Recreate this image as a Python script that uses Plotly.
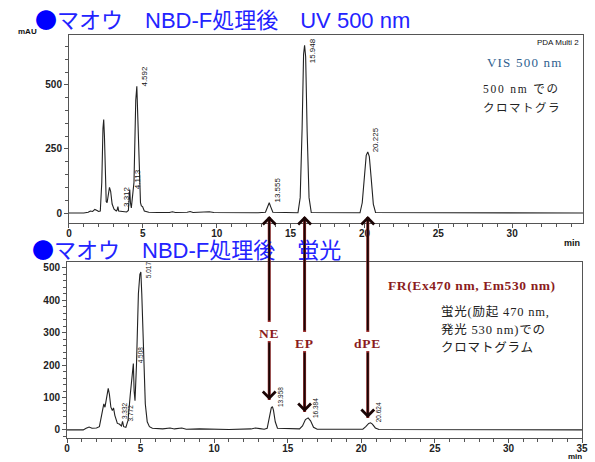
import plotly.graph_objects as go

W, H = 595, 462

# ---------------- UV 500 nm chromatogram (mAU vs min) ----------------
uv_peak_text = ["3.312", "4.113", "4.592", "13.555", "15.948", "20.225"]
uv_peak_rt = [3.312, 4.113, 4.592, 13.555, 15.948, 20.225]
uv_peak_mau = [25, 92, 495, 40, 655, 238]

# trace points between the labelled apexes (baseline, flanks, unlabelled peaks)
uv_trace_t = [0, 1.0, 1.3, 1.45, 1.6, 1.75, 1.9, 2.0, 2.12, 2.22, 2.3, 2.35, 2.4, 2.46,
              2.52, 2.58, 2.66, 2.74, 2.82, 2.92, 3.05, 3.2, 3.26, 3.36, 3.6, 3.9, 4.02,
              4.08, 4.16, 4.22, 4.4, 4.52, 4.64, 4.68, 4.72, 4.78, 4.84, 4.9, 4.98, 5.1,
              5.4, 6.0, 6.8, 7.0, 7.2, 8.0, 8.2, 8.4, 9.2, 9.5, 9.8, 11.0, 12.8, 13.3,
              13.45, 13.65, 13.8, 15.5, 15.65, 15.78, 15.88, 16.02, 16.12, 16.25, 16.4,
              19.7, 19.85, 20.0, 20.12, 20.33, 20.45, 20.6, 20.75, 34.8]
uv_trace_mau = [0, 0, 3, 8, 6, 14, 10, 6, 8, 120, 330, 365, 300, 110,
                45, 40, 80, 100, 85, 35, 15, 8, 12, 8, 5, 4, 10,
                60, 40, 20, 120, 440, 400, 260, 245, 120, 40, 28, 25, 8,
                3, 2, 2, 5, 2, 3, 6, 2, 3, 5, 2, 1, 1, 3,
                25, 25, 3, 1, 60, 330, 620, 610, 320, 60, 2,
                1, 40, 150, 225, 220, 140, 35, 2, 0]

# ---------------- fluorescence chromatogram ----------------
fl_peak_text = ["3.332", "3.772", "4.508", "5.017", "13.958", "16.384", "20.624"]
fl_peak_rt = [3.332, 3.772, 4.508, 5.017, 13.958, 16.384, 20.624]
fl_peak_sig = [32, 26, 205, 487, 72, 37, 22]

fl_trace_t = [0, 1.1, 1.3, 1.5, 1.7, 2.0, 2.2, 2.35, 2.5, 2.58, 2.7, 2.8, 2.88, 2.98,
              3.08, 3.16, 3.25, 3.42, 3.55, 3.7, 3.85, 4.0, 4.15, 4.3, 4.38, 4.45, 4.56,
              4.62, 4.72, 4.85, 4.95, 5.08, 5.2, 5.32, 5.45, 5.6, 5.8, 6.5, 7.0, 7.3,
              7.8, 8.1, 9.0, 11.0, 12.5, 12.8, 13.1, 13.4, 13.6, 13.75, 13.88, 14.03,
              14.15, 14.3, 15.8, 16.0, 16.2, 16.55, 16.75, 17.0, 20.1, 20.3, 20.5, 20.75,
              20.95, 21.2, 35.0]
fl_trace_sig = [0, 0, 5, 9, 5, 6, 10, 40, 80, 70, 100, 128, 110, 70,
                60, 68, 45, 20, 18, 12, 10, 8, 30, 110, 150, 195, 120,
                90, 200, 420, 480, 420, 230, 80, 25, 10, 5, 3, 6, 3,
                6, 2, 3, 1, 3, 6, 4, 2, 5, 40, 68, 60,
                25, 5, 3, 12, 32, 28, 8, 2, 2, 10, 20, 18,
                6, 1, 0]

# compounds identified in both runs
compound_names = ["NE", "EP", "dPE"]
compound_rt = [13.555, 15.948, 20.225]

uv_ticks = [0, 250, 500]
fl_ticks = [0, 100, 200, 300, 400, 500]
time_ticks = [0, 5, 10, 15, 20, 25, 30, 35]


def merged(t, y, pt, py):
    pts = sorted(zip(list(t) + list(pt), list(y) + list(py)))
    return [p[0] for p in pts], [p[1] for p in pts]


def fy(p):
    """pixel row -> paper y"""
    return 1 - p / H


def fx(p):
    """pixel column -> paper x"""
    return p / W


def spaced(text, px):
    return f"<span style='letter-spacing:{px}px'>{text}</span>"


LINE = "#222222"
AXIS = "#555555"
BLUE = "#2323ff"
RED = "#8b1c1c"
SERIF = "Liberation Serif, DejaVu Serif, Noto Sans CJK JP"
SANS = "Liberation Sans, Arial, Noto Sans CJK JP"
DOT = "<span style='font-family:Noto Sans CJK JP;color:#0000ff'>●</span>"

fig = go.Figure()

uv_t, uv_y = merged(uv_trace_t, uv_trace_mau, uv_peak_rt, uv_peak_mau)
fl_t, fl_y = merged(fl_trace_t, fl_trace_sig, fl_peak_rt, fl_peak_sig)

fig.add_trace(go.Scatter(x=uv_t, y=uv_y, mode="lines", line=dict(color=LINE, width=1.1),
                         xaxis="x", yaxis="y", showlegend=False, hoverinfo="skip"))
fig.add_trace(go.Scatter(x=fl_t, y=fl_y, mode="lines", line=dict(color=LINE, width=1.1),
                         xaxis="x2", yaxis="y2", showlegend=False, hoverinfo="skip"))

tickfont = dict(family=SANS, size=10, color="#222", weight="bold")


def axis_common():
    return dict(showline=True, linecolor=AXIS, linewidth=1, mirror=True,
                showgrid=False, zeroline=False, ticks="outside", ticklen=4,
                tickcolor=AXIS, tickfont=tickfont)


fig.update_layout(
    width=W, height=H, margin=dict(l=0, r=0, t=0, b=0),
    paper_bgcolor="white", plot_bgcolor="white",
    xaxis=dict(domain=[fx(67), fx(589)], range=[0, 34.8], anchor="y",
               tickvals=time_ticks, ticklabelstandoff=-3,
               minor=dict(dtick=1, tick0=0, ticks="outside", ticklen=3, tickcolor=AXIS),
               **axis_common()),
    yaxis=dict(domain=[fy(223), fy(35)], range=[-39, 695], anchor="x",
               tickvals=uv_ticks, minor=dict(dtick=50, tick0=0, ticks="outside",
                                             ticklen=3, tickcolor=AXIS),
               **axis_common()),
    xaxis2=dict(domain=[fx(65), fx(588)], range=[0, 35], anchor="y2",
                tickvals=time_ticks, ticklabelstandoff=-3,
                minor=dict(dtick=1, tick0=0, ticks="outside", ticklen=3, tickcolor=AXIS),
                **axis_common()),
    yaxis2=dict(domain=[fy(438), fy(262)], range=[-25, 518], anchor="x2",
                tickvals=fl_ticks, minor=dict(dtick=20, tick0=0, ticks="outside",
                                              ticklen=3, tickcolor=AXIS),
                **axis_common()),
)

ann = []

# retention-time labels on the peaks
for txt, rt, h in zip(uv_peak_text, uv_peak_rt, uv_peak_mau):
    ann.append(dict(x=rt, y=min(h, 585), xref="x", yref="y", text=txt, showarrow=False,
                    textangle=-90, xanchor="center", yanchor="bottom", xshift=8, yshift=-2,
                    font=dict(family="Liberation Sans Narrow, " + SANS, size=8, color="#111")))
for txt, rt, h in zip(fl_peak_text, fl_peak_rt, fl_peak_sig):
    ann.append(dict(x=rt, y=min(h, 469), xref="x2", yref="y2", text=txt, showarrow=False,
                    textangle=-90, xanchor="center", yanchor="bottom", xshift=8, yshift=-2,
                    font=dict(family="Liberation Sans Narrow, " + SANS, size=6.5, color="#111")))

# titles
ann.append(dict(x=fx(30), y=fy(18), xref="paper", yref="paper", xanchor="left", yanchor="middle",
                showarrow=False, text=DOT + "マオウ\u3000NBD-F処理後\u3000UV 500 nm",
                font=dict(family=SANS, size=22, color=BLUE)))
ann.append(dict(x=fx(27), y=fy(248), xref="paper", yref="paper", xanchor="left", yanchor="middle",
                showarrow=False, text=DOT + "マオウ\u3000NBD-F処理後\u3000蛍光",
                font=dict(family=SANS, size=22, color=BLUE)))

# axis unit labels
ann.append(dict(x=fx(13), y=fy(31), xref="paper", yref="paper", xanchor="left", yanchor="middle",
                showarrow=False, text="mAU", font=dict(family=SANS, size=8, color="#111", weight="bold")))
ann.append(dict(x=fx(588), y=fy(243), xref="paper", yref="paper", xanchor="right", yanchor="middle",
                showarrow=False, text="min", font=dict(family=SANS, size=9, color="#111", weight="bold")))
ann.append(dict(x=fx(589), y=fy(462), xref="paper", yref="paper", xanchor="right", yanchor="bottom",
                showarrow=False, text="min", borderpad=0,
                font=dict(family=SANS, size=8, color="#111", weight="bold")))

# detector notes
ann.append(dict(x=fx(587), y=fy(42), xref="paper", yref="paper", xanchor="right", yanchor="middle",
                showarrow=False, text="PDA Multi 2", font=dict(family=SANS, size=8, color="#111")))
ann.append(dict(x=fx(489), y=fy(63), xref="paper", yref="paper", xanchor="left", yanchor="middle",
                showarrow=False, text=spaced("VIS 500 nm", 1.2),
                font=dict(family=SERIF, size=13, color="#2e5e8e")))
ann.append(dict(x=fx(485), y=fy(89), xref="paper", yref="paper", xanchor="left", yanchor="middle",
                showarrow=False, text=spaced("500 nm での", 1.8),
                font=dict(family=SERIF, size=11.5, color="#222")))
ann.append(dict(x=fx(485), y=fy(107), xref="paper", yref="paper", xanchor="left", yanchor="middle",
                showarrow=False, text=spaced("クロマトグラ", 1.5),
                font=dict(family=SERIF, size=11.5, color="#222")))
ann.append(dict(x=fx(389), y=fy(285), xref="paper", yref="paper", xanchor="left", yanchor="middle",
                showarrow=False, text=spaced("FR(Ex470 nm, Em530 nm)", 0.6),
                font=dict(family=SERIF, size=13.5, color=RED, weight="bold")))
for row, line in zip([312, 330, 348], ["蛍光(励起 470 nm,", "発光 530 nm)での", "クロマトグラム"]):
    ann.append(dict(x=fx(443), y=fy(row), xref="paper", yref="paper", xanchor="left",
                    yanchor="middle", showarrow=False, text=spaced(line, 0.8),
                    font=dict(family=SERIF, size=12.5, color="#222")))

# arrows linking the UV peaks to the fluorescence peaks
label_rows = [333, 343, 343]
head_rows = [400, 412, 418]
shapes = []
for name, rt, lab, head in zip(compound_names, compound_rt, label_rows, head_rows):
    top_tail = lab - 11
    bot_tail = lab + 8
    for y0, y1 in [(217, top_tail), (bot_tail, head)]:
        shapes.append(dict(type="line", xref="x", yref="paper", x0=rt, x1=rt,
                           y0=fy(y0), y1=fy(y1), line=dict(color="#a03030", width=3)))
    ann.append(dict(x=rt, y=fy(216), xref="x", yref="paper", ax=0, ay=top_tail - 216,
                    axref="pixel", ayref="pixel", text="", showarrow=True, arrowhead=4,
                    arrowsize=1.3, arrowwidth=1.9, arrowcolor="#1a0505"))
    ann.append(dict(x=rt, y=fy(head), xref="x", yref="paper", ax=0, ay=bot_tail - head,
                    axref="pixel", ayref="pixel", text="", showarrow=True, arrowhead=4,
                    arrowsize=1.3, arrowwidth=1.9, arrowcolor="#1a0505"))
    ann.append(dict(x=rt, y=fy(lab), xref="x", yref="paper", xanchor="center", yanchor="middle",
                    showarrow=False, text=spaced(name, 0.8),
                    font=dict(family=SERIF, size=13.5, color=RED, weight="bold")))

fig.update_layout(annotations=ann, shapes=shapes)
fig.write_html("out.html")
